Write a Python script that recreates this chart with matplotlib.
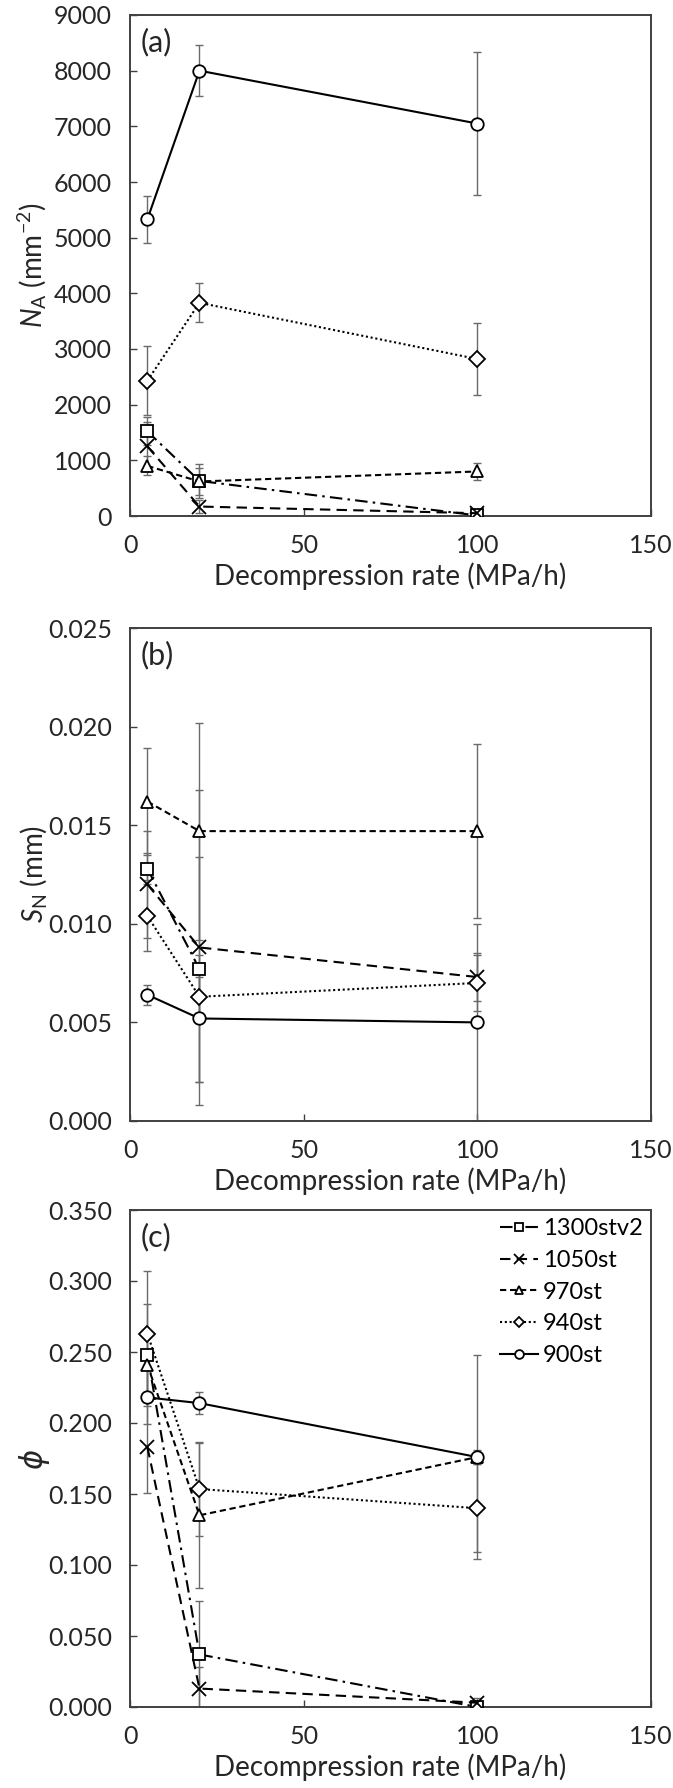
import numpy as np
import matplotlib
matplotlib.use("Agg")
import matplotlib.pyplot as plt
from matplotlib.ticker import FormatStrFormatter

plt.rcParams["font.family"] = ["Lato", "DejaVu Sans"]
plt.rcParams["mathtext.fontset"] = "custom"
plt.rcParams["mathtext.rm"] = "Lato"
plt.rcParams["mathtext.it"] = "Lato:italic"

rate = [5, 20, 100]
samples = ["1300stv2", "1050st", "970st", "940st", "900st"]

# number density N_A (mm^-2)
na_1300 = [1520, 630, 10]
na_1050 = [1250, 170, 50]
na_970 = [900, 620, 800]
na_940 = [2430, 3830, 2820]
na_900 = [5330, 8000, 7050]
na_err_1300 = [250, 300, 20]
na_err_1050 = [440, 120, 30]
na_err_970 = [170, 250, 160]
na_err_940 = [620, 350, 650]
na_err_900 = [420, 460, 1290]

# size S_N (mm)
sn_1300 = [0.0128, 0.0077, np.nan]
sn_1050 = [0.0120, 0.0088, 0.0073]
sn_970 = [0.0162, 0.0147, 0.0147]
sn_940 = [0.0104, 0.0063, 0.0070]
sn_900 = [0.0064, 0.0052, 0.0050]
sn_err_1300 = [0.0008, 0.0057, np.nan]
sn_err_1050 = [0.0027, 0.0080, 0.0012]
sn_err_970 = [0.0027, 0.0055, 0.0044]
sn_err_940 = [0.0018, 0.0010, 0.0014]
sn_err_900 = [0.0005, 0.0032, 0.0050]

# porosity phi
phi_1300 = [0.248, 0.037, 0.000]
phi_1050 = [0.183, 0.013, 0.003]
phi_970 = [0.241, 0.135, 0.176]
phi_940 = [0.263, 0.1535, 0.140]
phi_900 = [0.218, 0.214, 0.176]
phi_err_1300 = [0.036, 0.038, 0.002]
phi_err_1050 = [0.032, 0.015, 0.003]
phi_err_970 = [0.020, 0.051, 0.072]
phi_err_940 = [0.044, 0.033, 0.031]
phi_err_900 = [0.019, 0.008, 0.005]

styles = {
    "1300stv2": dict(marker="s", ms=8.5, ls=(0, (6, 2.5, 1.2, 2.5))),
    "1050st": dict(marker="x", ms=9.5, ls=(0, (5, 3))),
    "970st": dict(marker="^", ms=9, ls=(0, (3, 1.8))),
    "940st": dict(marker="D", ms=8, ls=(0, (1, 1.3))),
    "900st": dict(marker="o", ms=9, ls="-"),
}
text_c = "#262626"
axis_c = "#404040"
err_c = "#6a6a6a"

fig = plt.figure(figsize=(6.73, 17.88), dpi=100)
W, H = 673, 1788
left, right = 130, 651


def make_ax(top, bottom):
    return fig.add_axes([left / W, 1 - bottom / H, (right - left) / W, (bottom - top) / H])


def panel(ax, series, errs, ylim, yticks, fmt, ylabel, tag):
    for name, y, e in zip(samples, series, errs):
        st = styles[name]
        ax.errorbar(rate, y, yerr=e, fmt="none", ecolor=err_c, elinewidth=1,
                    capsize=3, capthick=1, zorder=2)
        ax.plot(rate, y, color="black", lw=1.5, ls=st["ls"], marker=st["marker"],
                ms=st["ms"], mfc="white" if st["marker"] != "x" else "black",
                mec="black", mew=1.3, label=name, zorder=3)
    ax.set_xlim(0, 150)
    ax.set_ylim(*ylim)
    ax.set_xticks([0, 50, 100, 150])
    ax.set_yticks(yticks)
    ax.yaxis.set_major_formatter(FormatStrFormatter(fmt))
    ax.tick_params(direction="in", length=5, width=1, color=axis_c, pad=13,
                   labelsize=18, labelcolor=text_c)
    for sp in ax.spines.values():
        sp.set_color(axis_c)
        sp.set_linewidth(1.4)
    ax.set_xlabel("Decompression rate (MPa/h)", fontsize=20, color=text_c, labelpad=4)
    ax.set_ylabel(ylabel, fontsize=20, color=text_c)
    ax.yaxis.set_label_coords(-0.155, 0.5)
    ax.text(0.02, 0.975, tag, transform=ax.transAxes, fontsize=22, color=text_c,
            ha="left", va="top")


ax1 = make_ax(15, 516)
panel(ax1, [na_1300, na_1050, na_970, na_940, na_900],
      [na_err_1300, na_err_1050, na_err_970, na_err_940, na_err_900],
      (0, 9000), np.arange(0, 9001, 1000), "%d",
      r"$N_\mathrm{A}$ (mm$^{-2}$)", "(a)")

ax2 = make_ax(628, 1121)
panel(ax2, [sn_1300, sn_1050, sn_970, sn_940, sn_900],
      [sn_err_1300, sn_err_1050, sn_err_970, sn_err_940, sn_err_900],
      (0, 0.025), np.arange(0, 0.0251, 0.005), "%.3f",
      r"$S_\mathrm{N}$ (mm)", "(b)")

ax3 = make_ax(1210, 1707)
panel(ax3, [phi_1300, phi_1050, phi_970, phi_940, phi_900],
      [phi_err_1300, phi_err_1050, phi_err_970, phi_err_940, phi_err_900],
      (0, 0.35), np.arange(0, 0.351, 0.05), "%.3f",
      "", "(c)")
ax3.set_ylabel("ϕ", fontsize=22, color=text_c, family=["DejaVu Sans"], style="italic")
ax3.yaxis.set_label_coords(-0.155, 0.5)
ax3.legend(loc="upper right", frameon=False, fontsize=17, handlelength=1.6,
           handletextpad=0.2, labelspacing=0.45, borderaxespad=0.15,
           borderpad=0.2, markerscale=0.7)

fig.savefig("out.png", dpi=100)
